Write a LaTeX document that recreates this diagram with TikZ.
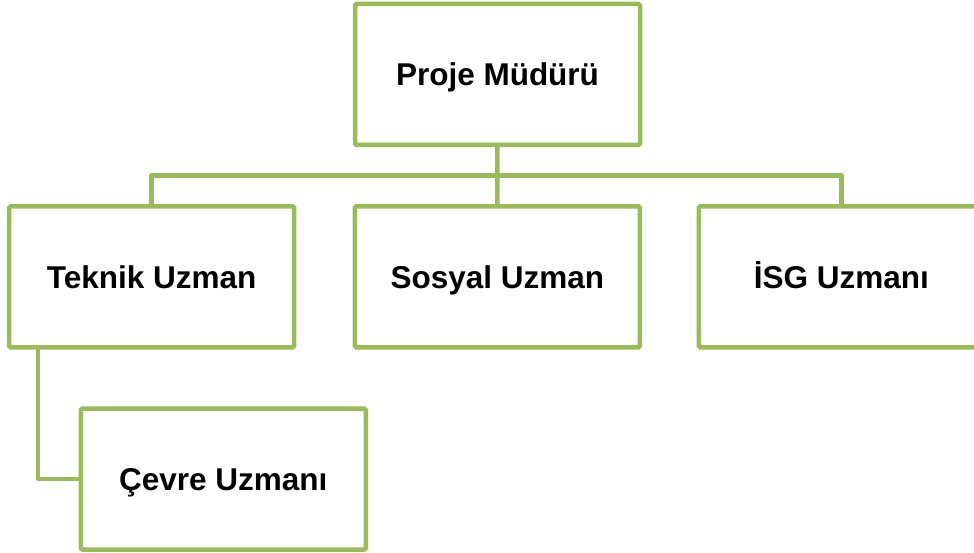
\documentclass[tikz,border=0pt]{standalone}
\usepackage{fontspec}
\setmainfont{Liberation Sans}
\begin{document}
\begin{tikzpicture}[x=1pt,y=-1pt,
  box/.style={draw=boxgreen, line width=4.5pt, fill=white, rounded corners=1.5pt,
    minimum width=285pt, minimum height=141pt, inner sep=0pt, outer sep=0pt,
    text height=22.5pt, text depth=0pt,
    font=\fontsize{31.5}{36}\selectfont\bfseries, text=black},
  link/.style={draw=boxgreen, line width=4.5pt, line join=round}]
\definecolor{boxgreen}{HTML}{9BBB59}
\useasboundingbox (0,0) rectangle (974,553);
\node[box] (P) at (497.5,74.5) {Proje Müdürü};
\node[box] (T) at (151.7,276.8) {Teknik Uzman};
\node[box] (S) at (497.3,276.8) {Sosyal Uzman};
\node[box] (I) at (841.3,276.8) {İSG Uzmanı};
\node[box] (C) at (223.3,479) {Çevre Uzmanı};
\coordinate (bus) at (497.5,175.5);
\draw[link] (P.south) -- (S.north);
\draw[link] (T.north) |- (bus) -| (I.north);
\draw[link] ([xshift=29pt]T.south west) |- (C.west);
\end{tikzpicture}
\end{document}
